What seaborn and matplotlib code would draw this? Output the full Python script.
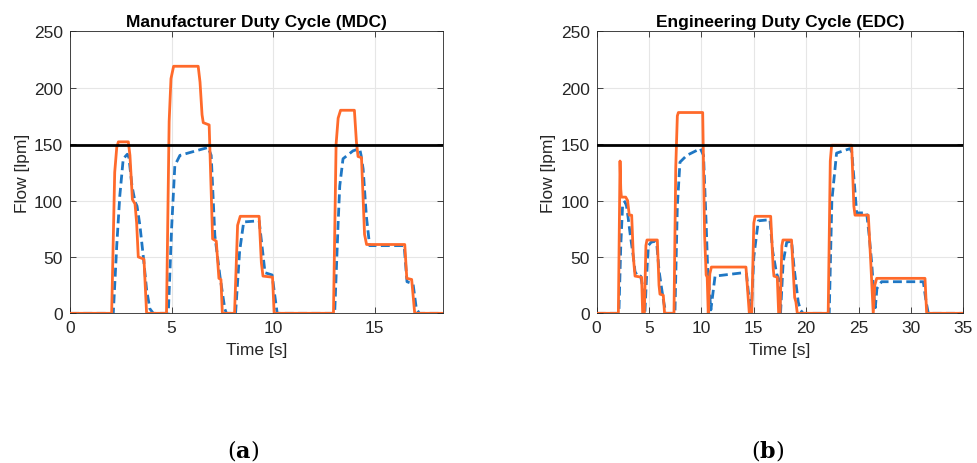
import numpy as np
import pandas as pd
import matplotlib
matplotlib.use("Agg")
import matplotlib.pyplot as plt
import seaborn as sns

# ---------------- data ----------------
# Manufacturer Duty Cycle (MDC)
mdc_ref_t = [0, 2.05, 2.2, 2.3, 2.38, 2.87, 2.95, 3.07, 3.2, 3.28, 3.36, 3.64, 3.77, 4.75, 4.88, 4.97,
             5.1, 6.31, 6.4, 6.5, 6.56, 6.85, 7.02, 7.2, 7.33, 7.43, 7.5, 8.1, 8.25, 8.38, 9.31, 9.42,
             9.5, 9.97, 10.05, 12.97, 13.1, 13.2, 13.32, 14.0, 14.1, 14.18, 14.35, 14.5, 14.6, 16.48,
             16.58, 16.82, 16.97, 18.35]
mdc_ref_f = [0, 0, 125, 147, 152, 152, 140, 101, 97, 80, 50, 48, 0, 0, 170, 208,
             219, 219, 205, 176, 169, 167, 66, 64, 31, 30, 0, 0, 78, 86, 86, 45,
             33, 32, 0, 0, 150, 173, 180, 180, 152, 139, 138, 70, 61, 61,
             31, 30, 0, 0]

mdc_act_t = [0, 2.13, 2.3, 2.45, 2.62, 2.82, 2.9, 3.05, 3.2, 3.3, 3.44, 3.61, 3.77, 3.93, 4.1, 4.84,
             5.0, 5.16, 5.41, 5.8, 6.39, 6.8, 6.95, 7.13, 7.38, 7.62, 7.7, 8.15, 8.35, 8.55, 9.31,
             9.45, 9.6, 9.95, 10.05, 10.2, 13.03, 13.2, 13.28, 13.44, 13.93, 14.26, 14.33, 14.43, 14.59,
             14.75, 16.45, 16.59, 16.89, 17.05, 17.2, 18.35]
mdc_act_f = [0, 0, 60, 104, 137, 141, 138, 113, 99, 95, 78, 50, 21, 4, 0, 0,
             75, 131, 140, 142, 145, 147, 140, 69, 33, 4, 0, 0, 55, 81, 82,
             60, 36, 34, 20, 0, 0, 80, 113, 137, 144, 146, 140, 128, 86,
             60, 60, 28, 26, 4, 0, 0]

# Engineering Duty Cycle (EDC)
edc_ref_t = [0, 2.07, 2.23, 2.3, 2.36, 2.77, 2.95, 3.11, 3.34, 3.5, 3.66, 4.29, 4.39, 4.55, 4.7, 4.8,
             5.79, 5.95, 6.04, 6.36, 6.48, 7.38, 7.55, 7.7, 7.8, 10.12, 10.3, 10.45, 10.55, 10.65, 10.8,
             10.95, 14.25, 14.57, 14.8, 15.0, 15.12, 16.61, 16.85, 16.92, 17.24, 17.37, 17.5, 17.68,
             17.78, 18.6, 18.9, 19.02, 19.15, 22.1, 22.3, 22.43, 24.34, 24.55, 24.66, 25.93, 26.16, 26.4,
             26.55, 26.73, 31.34, 31.5, 35]
edc_ref_f = [0, 0, 135, 110, 103, 103, 100, 87, 87, 50, 33, 32, 0, 0, 60, 65,
             65, 25, 17, 16, 0, 0, 130, 175, 178, 178, 70, 34, 32, 0, 35,
             41, 41, 0, 0, 80, 86, 86, 40, 33, 32, 0, 0, 60,
             65, 65, 14, 10, 0, 0, 135, 149, 149, 95, 87, 87, 46, 0,
             25, 31, 31, 0, 0]

edc_act_t = [0, 2.12, 2.3, 2.48, 2.7, 2.85, 3.0, 3.2, 3.5, 3.66, 3.9, 4.2, 4.35, 4.5, 4.6, 4.75,
             4.93, 5.2, 5.6, 5.75, 5.95, 6.2, 6.4, 6.6, 7.47, 7.7, 7.95, 8.6, 9.9, 10.2, 10.45,
             10.6, 10.72, 10.9, 11.3, 14.0, 14.3, 14.6, 14.75, 15.0, 15.43, 16.54, 16.8, 17.18, 17.4,
             17.55, 17.8, 18.14, 18.6, 18.85, 19.24, 19.45, 19.7, 22.2, 22.45, 22.9, 24.18, 24.35,
             24.6, 24.82, 25.77, 26.0, 26.25, 26.5, 26.6, 26.75, 27.2, 31.18, 31.45, 31.66, 35]
edc_act_f = [0, 0, 60, 97, 99, 95, 85, 70, 50, 37, 33, 33, 25, 2, 0, 30,
             60, 63, 64, 60, 38, 22, 10, 0, 0, 95, 134, 140, 146, 140, 80,
             38, 25, 3, 33, 36, 35, 8, 0, 50, 82, 83, 55, 35, 30,
             0, 45, 63, 64, 40, 10, 3, 0, 0, 100, 142, 146, 143,
             115, 89, 89, 70, 45, 12, 5, 22, 28, 28, 10, 0, 0]

limit_flow = 149

panels = [
    ("Manufacturer Duty Cycle (MDC)", mdc_ref_t, mdc_ref_f, mdc_act_t, mdc_act_f, 18.35, [0, 5, 10, 15], "a"),
    ("Engineering Duty Cycle (EDC)", edc_ref_t, edc_ref_f, edc_act_t, edc_act_f, 35, list(range(0, 36, 5)), "b"),
]

# ---------------- style ----------------
sns.set_theme(style="white")
plt.rcParams["font.family"] = ["Liberation Sans", "DejaVu Sans"]

ORANGE = "#FF6A2B"
BLUE = "#1F77C4"

fig = plt.figure(figsize=(9.78, 4.64), dpi=100)
ax_rects = [[0.0716, 0.3226, 0.3811, 0.6078], [0.6101, 0.3226, 0.3749, 0.6078]]

for rect, (title, rt, rf, at, af, xmax, xticks, lab) in zip(ax_rects, panels):
    assert len(rt) == len(rf) and len(at) == len(af)
    ax = fig.add_axes(rect)
    df_ref = pd.DataFrame({"Time": rt, "Flow": rf})
    df_act = pd.DataFrame({"Time": at, "Flow": af})
    sns.lineplot(data=df_act, x="Time", y="Flow", ax=ax, color=BLUE, lw=2.0,
                 linestyle=(0, (3.2, 1.6)), sort=False, estimator=None, zorder=3)
    sns.lineplot(data=df_ref, x="Time", y="Flow", ax=ax, color=ORANGE, lw=2.0,
                 sort=False, estimator=None, zorder=4)
    ax.axhline(limit_flow, color="black", lw=2.0, zorder=5)

    ax.set_xlim(0, xmax)
    ax.set_ylim(0, 250)
    ax.set_xticks(xticks)
    ax.set_yticks([0, 50, 100, 150, 200, 250])
    ax.grid(True, color="#E6E6E6", lw=0.8)
    ax.set_axisbelow(True)
    for s in ax.spines.values():
        s.set_color("#262626")
        s.set_linewidth(0.6)
    ax.tick_params(direction="in", length=4, width=0.6, color="#262626",
                   labelsize=12.5, labelcolor="#262626", top=True, right=True,
                   bottom=True, left=True, pad=5)
    ax.set_title(title, fontsize=12.5, fontweight="bold", pad=4, color="black")
    ax.set_xlabel("Time [s]", fontsize=12.5, color="#262626", labelpad=5)
    ax.set_ylabel("Flow [lpm]", fontsize=12.5, color="#262626", labelpad=3)

    fig.text(rect[0] + rect[2] * 0.465, 0.03, r"($\mathbf{" + lab + r"}$)", ha="center",
             va="center", fontsize=16, family="DejaVu Serif", math_fontfamily="dejavuserif",
             color="black")

fig.savefig("out.png", dpi=100, facecolor="white")
